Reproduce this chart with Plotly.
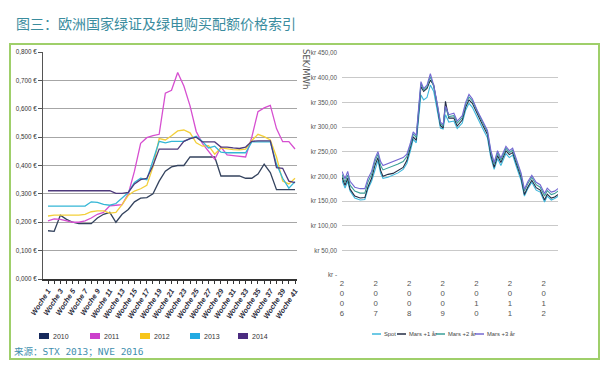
import plotly.graph_objects as go

W, H = 608, 369

TITLE = "图三：欧洲国家绿证及绿电购买配额价格索引"
SOURCE = "来源：STX 2013；NVE 2016"

# ---------------- left chart data (EUR, weekly) ----------------
weeks = ["Woche %d" % i for i in range(1, 42)]
week_ticktext = [w if i % 2 == 0 else "" for i, w in enumerate(weeks)]

y2010 = [0.170, 0.168, 0.225, 0.210, 0.200, 0.195, 0.195, 0.195, 0.215, 0.228,
         0.235, 0.200, 0.228, 0.245, 0.272, 0.285, 0.287, 0.300, 0.345, 0.380,
         0.395, 0.400, 0.400, 0.430, 0.430, 0.430, 0.430, 0.430, 0.363, 0.363,
         0.363, 0.363, 0.355, 0.355, 0.370, 0.405, 0.375, 0.315, 0.315, 0.315, 0.315]
y2011 = [0.205, 0.212, 0.210, 0.205, 0.200, 0.200, 0.205, 0.215, 0.228, 0.235,
         0.258, 0.260, 0.262, 0.300, 0.380, 0.478, 0.498, 0.505, 0.510, 0.655,
         0.665, 0.728, 0.680, 0.610, 0.520, 0.478, 0.450, 0.422, 0.465, 0.437,
         0.435, 0.433, 0.430, 0.500, 0.590, 0.603, 0.612, 0.530, 0.484, 0.484, 0.458]
y2012 = [0.222, 0.225, 0.225, 0.225, 0.225, 0.225, 0.228, 0.237, 0.240, 0.240,
         0.232, 0.235, 0.262, 0.295, 0.310, 0.318, 0.330, 0.395, 0.495, 0.490,
         0.505, 0.522, 0.525, 0.515, 0.480, 0.468, 0.470, 0.440, 0.462, 0.458,
         0.456, 0.455, 0.458, 0.488, 0.510, 0.502, 0.490, 0.430, 0.345, 0.335, 0.355]
y2013 = [0.257, 0.257, 0.257, 0.257, 0.257, 0.257, 0.257, 0.272, 0.270, 0.263,
         0.260, 0.266, 0.284, 0.305, 0.340, 0.355, 0.350, 0.420, 0.485, 0.480,
         0.485, 0.485, 0.485, 0.495, 0.503, 0.485, 0.462, 0.468, 0.447, 0.445,
         0.445, 0.445, 0.445, 0.483, 0.483, 0.483, 0.483, 0.405, 0.355, 0.320, 0.343]
y2014 = [0.311, 0.311, 0.311, 0.311, 0.311, 0.311, 0.311, 0.311, 0.311, 0.311,
         0.311, 0.302, 0.302, 0.305, 0.335, 0.350, 0.355, 0.400, 0.458, 0.458,
         0.458, 0.458, 0.485, 0.495, 0.500, 0.483, 0.483, 0.483, 0.465, 0.465,
         0.462, 0.460, 0.465, 0.485, 0.487, 0.487, 0.487, 0.392, 0.390, 0.345, 0.340]

left_names = ["2010", "2011", "2012", "2013", "2014"]
left_series = [y2010, y2011, y2012, y2013, y2014]
left_line_colors = ["#34435e", "#d64fd0", "#f3cf3a", "#35b6d6", "#4e3a7c"]
left_legend_colors = ["#172a5c", "#cc3fcc", "#f7c51a", "#22aae2", "#4b2c80"]

left_yticks = [0, 0.1, 0.2, 0.3, 0.4, 0.5, 0.6, 0.7, 0.8]
left_yticktext = ["0,000 €", "0,100 €", "0,200 €", "0,300 €", "0,400 €",
                  "0,500 €", "0,600 €", "0,700 €", "0,800 €"]

# ---------------- right chart data (SEK/MWh) ----------------
t_years = [2006.00, 2006.09, 2006.17, 2006.24, 2006.38, 2006.54, 2006.68, 2006.77, 2006.88, 2006.98,
           2007.07, 2007.15, 2007.22, 2007.37, 2007.52, 2007.67, 2007.82, 2007.93, 2008.03, 2008.12,
           2008.21, 2008.28, 2008.35, 2008.43, 2008.53, 2008.63, 2008.73, 2008.83, 2008.93, 2009.01,
           2009.08, 2009.18, 2009.33, 2009.43, 2009.58, 2009.68, 2009.78, 2009.88, 2010.03, 2010.18,
           2010.33, 2010.43, 2010.53, 2010.63, 2010.73, 2010.88, 2010.98, 2011.08, 2011.18, 2011.33,
           2011.43, 2011.53, 2011.65, 2011.78, 2011.90, 2012.03, 2012.11, 2012.23, 2012.33, 2012.45]
spot = [192, 176, 190, 170, 156, 152, 153, 174, 190, 215,
        232, 206, 196, 198, 202, 207, 214, 226, 250, 275,
        268, 322, 365, 355, 360, 385, 372, 335, 298, 296,
        325, 310, 312, 297, 308, 334, 348, 340, 318, 298,
        278, 238, 214, 236, 222, 246, 238, 243, 222, 192,
        160, 175, 188, 172, 168, 148, 160, 152, 155, 160]
mars1 = [198, 182, 196, 174, 160, 156, 157, 178, 196, 222,
         238, 212, 200, 204, 206, 212, 218, 232, 255, 280,
         273, 330, 382, 372, 378, 395, 385, 345, 303, 298,
         352, 318, 318, 302, 314, 340, 355, 348, 325, 305,
         285, 244, 218, 242, 228, 252, 244, 248, 228, 198,
         163, 178, 192, 177, 172, 152, 164, 156, 158, 164]
mars2 = [204, 188, 203, 182, 170, 166, 166, 188, 204, 230,
         245, 222, 213, 217, 220, 225, 230, 240, 262, 286,
         279, 333, 388, 375, 382, 402, 382, 348, 307, 302,
         340, 321, 323, 308, 319, 346, 361, 353, 330, 310,
         290, 249, 225, 248, 233, 257, 248, 253, 233, 203,
         170, 185, 198, 183, 178, 160, 171, 163, 165, 171]
mars3 = [210, 195, 210, 190, 178, 175, 175, 195, 210, 236,
         250, 230, 222, 226, 230, 235, 238, 245, 266, 290,
         283, 338, 392, 378, 385, 408, 385, 350, 310, 305,
         342, 325, 328, 312, 323, 350, 366, 357, 333, 313,
         293, 253, 228, 252, 237, 261, 252, 257, 237, 207,
         174, 189, 202, 188, 183, 165, 176, 168, 170, 176]

right_names = ["Spot", "Mars +1 år", "Mars +2 år", "Mars +3 år"]
right_series = [spot, mars1, mars2, mars3]
right_colors = ["#3cb7dc", "#222c45", "#3a9f98", "#7468d2"]

right_yticks = [0, 50, 100, 150, 200, 250, 300, 350, 400, 450]
right_yticktext = ["kr -", "kr 50,00", "kr 100,00", "kr 150,00", "kr 200,00",
                   "kr 250,00", "kr 300,00", "kr 350,00", "kr 400,00", "kr 450,00"]
right_xticks = [2006, 2007, 2008, 2009, 2010, 2011, 2012]
right_xticktext = ["<br>".join(str(v)) for v in right_xticks]

SANS = "Liberation Sans, Arial, sans-serif"


def px(x):
    return x / W


def py(y):
    return 1 - y / H


fig = go.Figure()

for name, ys, col in zip(left_names, left_series, left_line_colors):
    fig.add_trace(go.Scatter(x=weeks, y=ys, mode="lines", name=name,
                             line=dict(color=col, width=1.3),
                             xaxis="x", yaxis="y", showlegend=False))

for name, ys, col in zip(right_names, right_series, right_colors):
    fig.add_trace(go.Scatter(x=t_years, y=ys, mode="lines", name=name,
                             line=dict(color=col, width=1.1),
                             xaxis="x2", yaxis="y2", showlegend=False))

shapes = []
annotations = []

# outer green frame
shapes.append(dict(type="rect", xref="paper", yref="paper",
                   x0=px(10), x1=px(599), y0=py(359), y1=py(44),
                   line=dict(color="#9fcf6a", width=2), fillcolor="rgba(0,0,0,0)",
                   layer="below"))

# title and source
annotations.append(dict(text=TITLE, xref="paper", yref="paper", x=px(14), y=py(23),
                        xanchor="left", yanchor="middle", showarrow=False,
                        font=dict(family="Noto Sans CJK SC", size=14, color="#3a8c9e")))
annotations.append(dict(text=SOURCE, xref="paper", yref="paper", x=px(12), y=py(351),
                        xanchor="left", yanchor="middle", showarrow=False,
                        font=dict(family="DejaVu Sans Mono, Noto Sans CJK SC", size=9.5,
                                  color="#3f8fae")))
# right y-axis unit
annotations.append(dict(text="SEK/MWh", xref="paper", yref="paper", x=px(306), y=py(69),
                        xanchor="center", yanchor="middle", showarrow=False, textangle=90,
                        font=dict(family="DejaVu Sans, sans-serif", size=8.5, color="#555")))

# left legend (colored squares)
left_leg_x = [39, 90, 140, 190, 238]
for xl, name, col in zip(left_leg_x, left_names, left_legend_colors):
    shapes.append(dict(type="rect", xref="paper", yref="paper",
                       x0=px(xl), x1=px(xl + 10), y0=py(339), y1=py(333),
                       line=dict(width=0), fillcolor=col))
    annotations.append(dict(text=name, xref="paper", yref="paper", x=px(xl + 12), y=py(336.5),
                            xanchor="left", yanchor="middle", showarrow=False,
                            font=dict(family=SANS, size=7, color="#333")))

# right legend (line samples)
right_leg_x = [372, 397, 436, 475]
for xl, name, col in zip(right_leg_x, right_names, right_colors):
    shapes.append(dict(type="line", xref="paper", yref="paper",
                       x0=px(xl), x1=px(xl + 9), y0=py(334), y1=py(334),
                       line=dict(width=1.5, color=col)))
    annotations.append(dict(text=name, xref="paper", yref="paper", x=px(xl + 10), y=py(334),
                            xanchor="left", yanchor="middle", showarrow=False,
                            font=dict(family=SANS, size=5.8, color="#444")))

fig.update_layout(
    width=W, height=H,
    margin=dict(l=0, r=0, t=0, b=0, pad=0, autoexpand=False),
    paper_bgcolor="white", plot_bgcolor="white",
    showlegend=False,
    shapes=shapes, annotations=annotations,
    xaxis=dict(domain=[px(43), px(297)], range=[-0.81, 40.32], automargin=False,
               type="category", tickmode="array", tickvals=weeks, ticktext=week_ticktext,
               tickangle=-57, ticks="outside", ticklen=3, tickcolor="#333",
               showline=True, linecolor="#333", linewidth=1.5, showgrid=False,
               tickfont=dict(family=SANS, size=7.3, color="#2a2a3a",
                             style="italic", weight="bold"),
               anchor="y", zeroline=False),
    yaxis=dict(domain=[py(279), py(52)], range=[0, 0.8], tickmode="array", automargin=False,
               tickvals=left_yticks, ticktext=left_yticktext,
               ticks="outside", ticklen=4, tickcolor="#555",
               showline=True, linecolor="#555", linewidth=1,
               showgrid=True, gridcolor="#a6a6a6", gridwidth=1, zeroline=False,
               tickfont=dict(family=SANS, size=6.3, color="#333"), anchor="x"),
    xaxis2=dict(domain=[px(342), px(558)], range=[2006.0, 2012.43], automargin=False,
                tickmode="array", tickvals=right_xticks, ticktext=right_xticktext,
                tickangle=0, showline=False, showgrid=False, zeroline=False,
                ticks="", ticklabelstandoff=2,
                tickfont=dict(family=SANS, size=7.8, color="#555"),
                anchor="y2"),
    yaxis2=dict(domain=[py(275), py(53)], range=[0, 450], tickmode="array", automargin=False,
                tickvals=right_yticks, ticktext=right_yticktext,
                showline=False, showgrid=True, gridcolor="#c9c9c9", gridwidth=1,
                zeroline=False, ticks="", ticklabelstandoff=4,
                tickfont=dict(family=SANS, size=6.3, color="#555"), anchor="x2"),
)

fig.write_html("out.html", config={"displayModeBar": False},
               post_script="document.body.style.margin='0';document.body.style.overflow='hidden';")
